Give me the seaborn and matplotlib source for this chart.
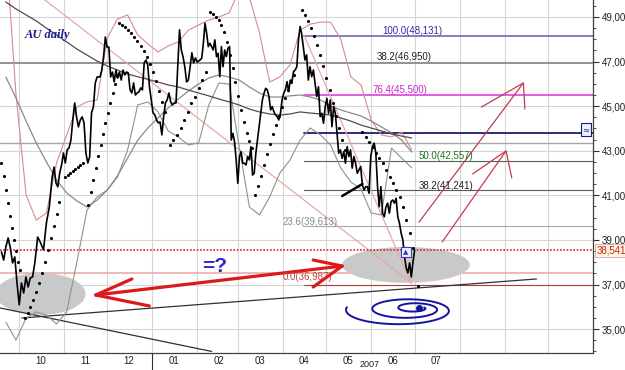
import numpy as np
import pandas as pd
import matplotlib
matplotlib.use("Agg")
import matplotlib.pyplot as plt
import matplotlib.dates as mdates
import matplotlib.transforms as mtransforms
from matplotlib.patches import Ellipse
from matplotlib.ticker import FixedLocator, FuncFormatter, MultipleLocator, NullFormatter
import seaborn as sns

# daily closes, in stretches (first/last date of each stretch)
close_sep_oct = [38.46, 38.10, 38.69, 39.09, 38.64, 37.97, 38.24, 37.07, 36.09, 37.07,
                 36.62, 37.34, 36.89, 37.30, 37.34, 37.97]
close_mid_oct = [39.13, 38.87, 38.55, 39.76, 40.48]
close_oct_nov = [41.83, 42.27, 41.56, 41.38, 42.00, 42.36, 42.90, 42.45, 43.04, 43.13,
                 43.48, 44.38, 45.14, 44.52, 44.07, 44.38, 44.52, 44.25, 42.90, 42.45,
                 42.72, 44.70, 44.96, 46.04, 46.31]
close_nov_feb = [46.31, 46.62, 47.21, 48.10, 47.65, 47.65, 46.31, 46.53, 46.09, 46.62,
                 46.26, 46.53, 46.17, 46.62, 46.40, 46.53, 46.49, 45.73, 45.59, 46.04,
                 45.50, 45.59, 45.64, 45.82, 45.73, 46.94, 47.07, 46.85, 45.86, 45.28,
                 44.70, 44.61, 44.38, 44.25, 44.29, 43.71, 44.52, 45.14, 45.28, 45.59,
                 45.19, 45.05, 45.14, 45.14, 46.76, 48.42, 47.52, 47.21, 46.76, 46.09,
                 46.17, 46.76, 47.39, 46.94, 47.16, 46.98]
close_feb_apr = [47.07, 47.15, 47.82, 48.72, 48.27, 47.67, 47.82, 47.67, 47.52, 47.97,
                 47.22, 47.37, 46.32, 47.67, 46.77, 47.52, 47.22, 47.60, 47.67, 43.48,
                 43.78, 43.41, 42.59, 41.54, 42.74, 42.96, 42.44, 42.44, 42.36, 42.74,
                 42.59, 43.18, 41.91, 41.99, 42.89, 43.48, 44.08, 44.68, 45.28, 45.58,
                 45.80, 45.73, 45.43, 44.83, 44.98, 44.75, 44.61, 44.53, 44.38, 44.68,
                 45.28, 45.58, 45.73, 46.10, 45.65, 46.17, 46.10, 46.55, 46.62, 46.77,
                 47.97, 48.57]
close_apr_jul = [48.27, 47.67, 47.07, 47.30, 46.17, 46.77, 46.32, 46.62, 46.03, 45.43,
                 45.87, 44.53, 44.68, 44.23, 44.98, 45.35, 44.68, 45.28, 44.08, 44.98,
                 44.68, 43.78, 42.89, 43.04, 42.66, 42.96, 42.44, 43.18, 42.74, 43.04,
                 42.22, 42.74, 42.44, 41.99, 42.14, 42.29, 41.47, 41.24, 41.39, 41.39,
                 41.09, 42.74, 43.18, 43.34, 42.89, 41.39, 40.49, 41.39, 40.20, 40.04,
                 40.49, 40.65, 40.20, 40.72, 40.79, 40.65, 40.87, 40.04, 39.75, 39.30,
                 39.00, 38.24, 37.74, 37.52, 37.97, 37.34, 38.01, 38.54]
close_spans = [("2006-09-19", "2006-10-12"), ("2006-10-14", "2006-10-22"),
               ("2006-10-24", "2006-11-24"), ("2006-11-26", "2007-02-01"),
               ("2007-02-03", "2007-04-13"), ("2007-04-14", "2007-07-01")]

# parabolic SAR runs (start, end, values)
sar_spans = [("2006-09-19", "2006-10-02"), ("2006-10-05", "2006-10-29"),
             ("2006-11-02", "2006-11-14"), ("2006-11-18", "2006-12-08"),
             ("2006-12-09", "2007-01-10"), ("2007-01-13", "2007-02-07"),
             ("2007-02-10", "2007-03-11"), ("2007-03-13", "2007-04-09"),
             ("2007-04-14", "2007-05-14"), ("2007-05-26", "2007-06-30"),
             ("2007-07-03", "2007-07-03")]
sar_values = [
    [42.45, 41.87, 41.24, 40.66, 40.07, 39.54, 39.00, 38.51, 38.01, 37.65],
    [35.50, 35.72, 35.99, 36.31, 36.67, 37.07, 37.52, 38.01, 38.55, 39.09, 39.63, 40.16, 40.70],
    [41.82, 41.91, 42.00, 42.09, 42.18, 42.27, 42.36, 42.45],
    [40.57, 41.15, 41.69, 42.23, 42.76, 43.26, 43.75, 44.24, 44.69, 45.14, 45.59, 45.99, 46.35],
    [48.73, 48.64, 48.55, 48.41, 48.28, 48.10, 47.92, 47.70, 47.47, 47.20, 46.89, 46.53,
     46.13, 45.68, 45.19, 44.74],
    [43.26, 43.48, 43.71, 44.02, 44.38, 44.74, 45.14, 45.41, 45.81, 46.17, 46.53],
    [49.22, 49.13, 49.00, 48.86, 48.64, 48.33, 47.88, 47.29, 46.71, 46.08, 45.46, 44.83,
     44.29, 43.80, 43.44, 43.12],
    [41.02, 41.42, 41.87, 42.36, 42.85, 43.30, 43.75, 44.15, 44.56, 44.96, 45.37, 45.72,
     46.08, 46.40],
    [49.31, 49.09, 48.82, 48.50, 48.15, 47.74, 47.29, 46.80, 46.26, 45.72, 45.14, 44.56,
     44.02, 43.48, 43.03],
    [43.84, 43.62, 43.39, 43.17, 42.90, 42.67, 42.45, 42.14, 41.82, 41.55, 41.24, 40.93,
     40.48, 39.89, 39.31, 38.64],
    [36.94],
]

# bands and averages, read once a week (Fridays from 2006-09-22)
band_upper = [52.20, 45.54, 41.02, 39.89, 40.21, 42.45, 43.71, 44.96, 45.19, 45.28,
              48.06, 48.91, 49.09, 48.19, 47.79, 47.43, 47.70, 47.88, 48.41, 48.64,
              48.86, 49.00, 49.18, 50.20, 49.90, 48.28, 46.08, 46.31, 46.85, 48.41,
              48.68, 48.77, 48.77, 48.00, 46.31, 45.95, 44.38, 43.71, 43.62, 43.84, 43.03]
band_lower = [35.32, 34.51, 35.50, 35.77, 35.63, 35.23, 35.77, 38.01, 40.34, 40.93,
              41.24, 41.82, 43.03, 45.05, 45.19, 44.74, 43.89, 43.62, 43.26, 43.35,
              45.05, 46.04, 45.99, 43.17, 40.48, 40.12, 40.93, 42.00, 42.58, 43.48,
              44.02, 43.71, 43.26, 42.23, 41.60, 41.28, 40.21, 40.12, 43.12, 42.67, 42.23]
ma_mid = [46.31, 45.37, 44.33, 43.35, 42.50, 41.69, 41.11, 40.75, 40.48, 40.79,
          41.24, 41.87, 42.67, 43.48, 44.02, 44.47, 44.92, 45.32, 45.68, 45.99,
          46.26, 46.40, 46.31, 46.17, 45.86, 45.59, 45.41, 45.41, 45.46, 45.50,
          45.41, 45.28, 45.01, 44.83, 44.69, 44.56, 44.33, 44.07, 43.80, 43.48, 42.94]
ma_long = [49.67, 49.36, 49.09, 48.82, 48.50, 48.19, 47.88, 47.56, 47.29, 47.02,
           46.80, 46.62, 46.44, 46.32, 46.20, 46.08, 45.95, 45.86, 45.72, 45.59,
           45.46, 45.32, 45.19, 45.05, 44.87, 44.74, 44.65, 44.60, 44.65, 44.74,
           44.69, 44.65, 44.60, 44.47, 44.33, 44.15, 44.02, 43.89, 43.75, 43.66, 43.57]

# fibonacci retracement drawn from the April high to the June low
fib_pct = ["100.0", "76.4", "50.0", "38.2", "23.6", "0.0"]
fib_val = [48.131, 45.500, 42.557, 41.241, 39.613, 36.987]
fib_other = 46.950   # 38.2 level of an older retracement
last_price = 38.541
level_navy = 43.80
level_gray = 43.35
level_pink = 37.52
y_ticks = [35, 37, 39, 41, 43, 45, 47, 49]

T = pd.Timestamp


def comma(v):
    return f"{v:.3f}".replace(".", ",")


parts = []
for vals, (d0, d1) in zip([close_sep_oct, close_mid_oct, close_oct_nov, close_nov_feb,
                           close_feb_apr, close_apr_jul], close_spans):
    parts.append(pd.DataFrame({"date": pd.date_range(d0, d1, periods=len(vals)), "close": vals}))
df = pd.concat(parts, ignore_index=True)

sar_parts = []
for vals, (d0, d1) in zip(sar_values, sar_spans):
    sar_parts.append(pd.DataFrame({"date": pd.date_range(d0, d1, periods=len(vals)), "sar": vals}))
sar = pd.concat(sar_parts, ignore_index=True)

bands = pd.DataFrame({"week": pd.date_range("2006-09-22", periods=len(band_upper), freq="7D"),
                      "upper": band_upper, "lower": band_lower,
                      "ma_mid": ma_mid, "ma_long": ma_long})

sns.set_style("white")
plt.rcParams["font.family"] = ["Liberation Sans", "DejaVu Sans"]

fig = plt.figure(figsize=(6.25, 3.7), dpi=100)
ax = fig.add_axes([0, 17 / 370, 593 / 625, 353 / 370])
ax.set_facecolor("white")

x0, x1 = T("2006-09-18"), T("2007-11-01")
fib_start = T("2007-04-16")

# horizontal levels
ax.axhline(fib_other, color="#8c8c8c", lw=1.3, zorder=1)
ax.axhline(level_gray, color="#a6a6a6", lw=1.0, zorder=1)
ax.axhline(level_pink, color="#e7a4a4", lw=1.1, zorder=1)
ax.axhline(last_price, color="#d02828", lw=1.2, ls=(0, (1, 1)), zorder=3)

fib_colors = ["#8080c4", "#e05ce0", "#4a6a4a", "#5c5c5c", "#a8a8a8", "#a84040"]
fib_lw = [1.4, 1.4, 0.8, 0.8, 0.8, 0.8]
for v, c, w in zip(fib_val, fib_colors, fib_lw):
    ax.plot([fib_start, x1], [v, v], color=c, lw=w, zorder=2)
ax.plot([fib_start, x1], [level_navy, level_navy], color="#1c1c6c", lw=1.3, zorder=2)

# grey zones
ax.add_patch(Ellipse((mdates.date2num(T("2006-10-16")), 36.58), 62, 1.88,
                     fc="#c9c9c9", ec="none", zorder=1.5))
ax.add_patch(Ellipse((mdates.date2num(T("2007-06-25")), 37.88), 88, 1.61,
                     fc="#c9c9c9", ec="none", zorder=1.5))

# trend lines
ax.plot([T("2006-10-19"), T("2007-06-28")], [49.76, 37.11], color="#e6a8a8", lw=0.9, zorder=2)
ax.plot([fib_start, T("2007-06-29")], [fib_val[0], fib_val[-1]], color="#e6a8a8", lw=0.9, zorder=2)
ax.plot([T("2006-09-18"), T("2007-02-11")], [35.95, 34.00], color="#303030", lw=0.9, zorder=2)
ax.plot([T("2006-10-03"), T("2007-09-23")], [35.50, 37.25], color="#303030", lw=0.9, zorder=2)

# indicator lines
for col, color, lw in [("upper", "#d98a8a", 0.8), ("lower", "#8d9585", 0.8),
                       ("ma_mid", "#8a8a8a", 0.9), ("ma_long", "#4e4e4e", 0.9)]:
    sns.lineplot(data=bands, x="week", y=col, color=color, lw=lw, ax=ax, zorder=2)

sns.lineplot(data=df, x="date", y="close", color="black", lw=1.2, ax=ax, zorder=4)
sns.scatterplot(data=sar, x="date", y="sar", color="black", s=5, linewidth=0, ax=ax, zorder=4)
ax.plot([T("2007-05-12"), T("2007-05-26")], [40.97, 41.51], color="black", lw=1.8, zorder=4)

# big red double arrow
red = "#dd1a1a"
ax.plot([T("2006-11-23"), T("2007-05-12")], [36.53, 37.83], color=red, lw=2.3, zorder=5)
ax.plot([T("2006-12-18"), T("2006-11-23"), T("2006-12-30")], [37.25, 36.53, 36.04],
        color=red, lw=2.3, zorder=5)
ax.plot([T("2007-04-22"), T("2007-05-12"), T("2007-04-22")], [38.10, 37.83, 36.89],
        color=red, lw=2.3, zorder=5)

# thin projection arrows
thin = "#c43a50"
ax.plot([T("2007-07-04"), T("2007-09-14")], [39.80, 46.04], color=thin, lw=0.9, zorder=5)
ax.plot([T("2007-08-16"), T("2007-09-14"), T("2007-09-15")], [44.96, 46.04, 44.87],
        color=thin, lw=0.9, zorder=5)
ax.plot([T("2007-07-20"), T("2007-09-02")], [38.91, 42.99], color=thin, lw=0.9, zorder=5)
ax.plot([T("2007-08-10"), T("2007-09-02"), T("2007-09-06")], [41.96, 42.99, 41.78],
        color=thin, lw=0.9, zorder=5)

# blue spiral under the low
c0 = mdates.date2num(T("2007-06-21"))
c1 = mdates.date2num(T("2007-07-04"))
theta = np.linspace(np.radians(195), np.radians(195 - 2.6 * 360), 500)
frac = np.linspace(0, 1, theta.size)
s = 1 - 0.9 * frac
xs = c0 + frac * (c1 - c0) + 38 * s * np.cos(theta)
ys = 35.81 + frac * 0.14 - 0.67 * s * np.sin(theta)
ax.plot(xs, ys, color="#1414a0", lw=1.4, zorder=5)
ax.plot([c1], [35.95], marker="o", ms=4, color="#1414a0", zorder=5)

# texts
ax.text(T("2006-10-05"), 48.19, "AU daily", family=["Liberation Serif", "DejaVu Serif"],
        style="italic", weight="bold", fontsize=9, color="#1c1c8c", va="center")
ax.text(T("2007-02-13"), 37.83, "=?", color="#2a2ad0", fontsize=15, fontweight="bold",
        ha="center", va="center", zorder=6)

fib_pos = [(T("2007-06-09"), 48.37), (T("2007-06-02"), 45.72), (T("2007-07-04"), 42.76),
           (T("2007-07-04"), 41.42), (T("2007-04-01"), 39.80), (T("2007-04-01"), 37.33)]
fib_text_colors = ["#3030a0", "#d020d0", "#207020", "#202020", "#8a8a8a", "#c04040"]
for p, v, (xd, yv), c in zip(fib_pct, fib_val, fib_pos, fib_text_colors):
    ax.text(xd, yv, f"{p}({comma(v)})", fontsize=7, color=c, va="center", ha="left", zorder=6)
ax.text(T("2007-06-05"), 47.20, f"38.2({comma(fib_other)})",
        fontsize=7, color="#202020", va="center", ha="left", zorder=6)

ax.text(T("2007-06-25"), 38.46, "▲", fontsize=5, color="#3a3ac0", ha="center", va="center",
        family=["DejaVu Sans"], zorder=6,
        bbox=dict(boxstyle="square,pad=0.35", fc="#eef0ff", ec="#3a3ac0", lw=0.8))
ax.text(T("2007-10-27"), 43.95, "≈", fontsize=6, color="#1c1c6c", ha="center", va="center",
        family=["DejaVu Sans"], zorder=6,
        bbox=dict(boxstyle="square,pad=0.2", fc="#e8f0ff", ec="#1c1c6c", lw=0.8))

ty = mtransforms.blended_transform_factory(ax.transAxes, ax.transData)
ax.text(1.006, last_price, comma(last_price), transform=ty,
        fontsize=7, color="#cc2020", ha="left", va="center", clip_on=False,
        bbox=dict(boxstyle="square,pad=0.15", fc="#fdf6e0", ec="#d0a8a8", lw=0.6))

# axes
ax.set_xlim(x0, x1)
ax.set_ylim(33.93, 49.76)
ax.set_xlabel("")
ax.set_ylabel("")

ax.xaxis.set_major_locator(mdates.MonthLocator())
ax.xaxis.set_major_formatter(NullFormatter())
ax.xaxis.set_minor_locator(mdates.MonthLocator(bymonthday=16))


def month_label(x, pos):
    d = mdates.num2date(x).replace(tzinfo=None)
    return d.strftime("%m") if d < pd.Timestamp("2007-08-01") else ""


ax.xaxis.set_minor_formatter(FuncFormatter(month_label))
ax.tick_params(axis="x", which="major", length=9.5, width=0.8, color="#303030", direction="out")
ax.tick_params(axis="x", which="minor", length=0, labelsize=7, pad=2, labelcolor="#202020")

ax.yaxis.tick_right()
ax.yaxis.set_major_locator(FixedLocator(y_ticks))
ax.yaxis.set_minor_locator(MultipleLocator(0.5))
ax.yaxis.set_major_formatter(FuncFormatter(lambda v, p: f"{v:.2f}".replace(".", ",")))
ax.tick_params(axis="y", which="major", length=4, width=0.8, color="#303030",
               labelsize=7, pad=2, labelcolor="#202020")
ax.tick_params(axis="y", which="minor", length=2, width=0.6, color="#303030")

ax.grid(True, which="major", color="#d6d6d6", lw=0.8)
ax.set_axisbelow(True)
for side in ["left", "top"]:
    ax.spines[side].set_visible(False)
for side in ["right", "bottom"]:
    ax.spines[side].set_color("#404040")
    ax.spines[side].set_linewidth(0.9)

tx = mtransforms.blended_transform_factory(ax.transData, ax.transAxes)
ax.plot([T("2007-01-01"), T("2007-01-01")], [0, -0.05], transform=tx, color="#303030",
        lw=0.8, clip_on=False)
fig.text(370 / 625, 0.002, "2007", ha="center", va="bottom", fontsize=6.5, color="#202020")

fig.savefig("out.png", dpi=100)
